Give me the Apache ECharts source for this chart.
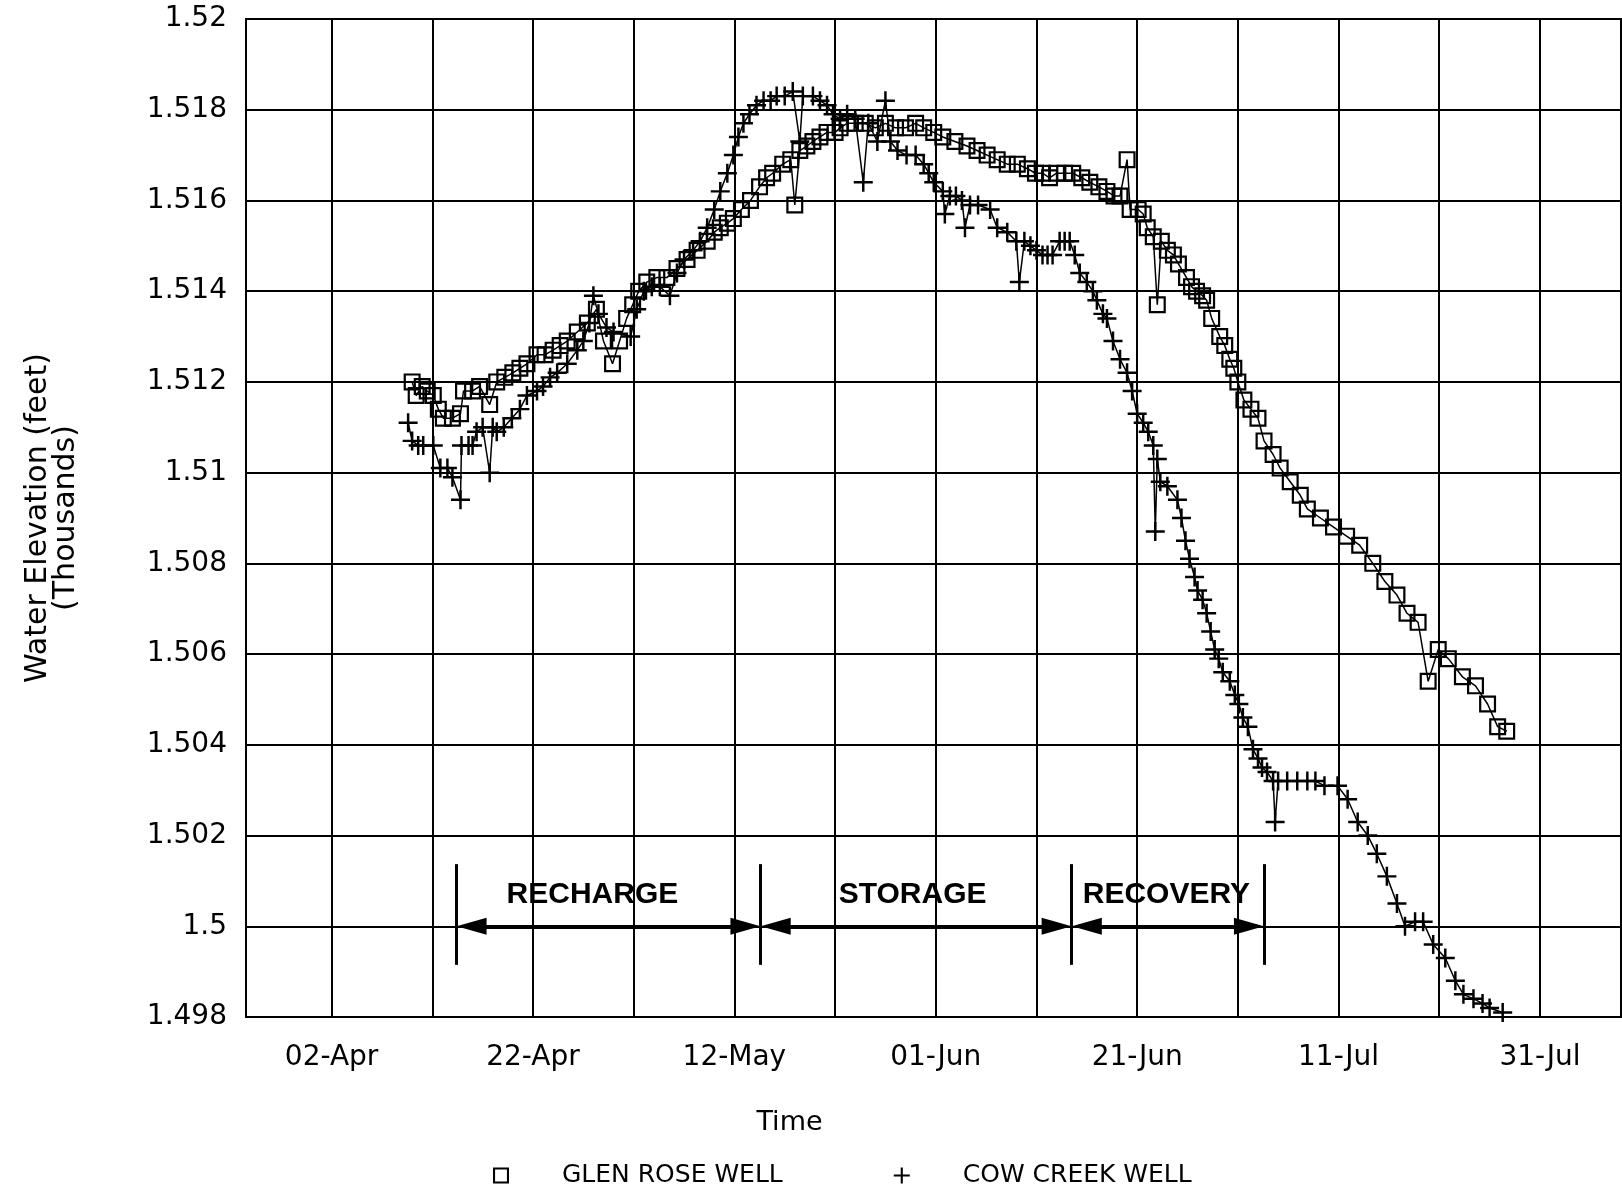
<!DOCTYPE html>
<html>
<head>
<meta charset="utf-8">
<title>Water Elevation - Glen Rose / Cow Creek</title>
<script src="https://cdn.jsdelivr.net/npm/echarts@6.0.0/dist/echarts.min.js"></script>
<style>
  html, body { margin: 0; padding: 0; background: #fff; }
  #chart { width: 1622px; height: 1188px; }
</style>
</head>
<body>
<div id="chart"></div>
<script>
// x values are day of year (02-Apr = 92)
const gridDays = [92, 102, 112, 122, 132, 142, 152, 162, 172, 182, 192, 202, 212];
const tickDays = [92, 112, 132, 152, 172, 192, 212];
const tickLabels = ['02-Apr', '22-Apr', '12-May', '01-Jun', '21-Jun', '11-Jul', '31-Jul'];

// Glen Rose well (squares), thousands of feet
const glenRoseDays = [
  100.0, 100.4, 101.0, 101.5, 102.1, 102.6, 103.1, 104.0, 104.8, 105.1,
  106.0, 106.7, 107.7, 108.4, 109.2, 110.0, 110.7, 111.4, 112.4, 113.2,
  114.0, 114.7, 115.4, 116.4, 117.4, 118.3, 119.0, 119.9, 120.6, 121.3,
  121.9, 122.5, 123.3, 124.3, 125.3, 126.3, 127.3, 128.3, 129.3, 130.0,
  130.6, 131.3, 131.9, 132.7, 133.6, 134.5, 135.2, 135.8, 136.8, 137.6,
  138.0, 138.5, 139.2, 139.8, 140.5, 141.2, 142.0, 142.5, 143.2, 144.0,
  145.0, 146.0, 147.0, 148.0, 149.0, 150.0, 150.8, 151.8, 152.7, 153.9,
  155.1, 156.1, 157.1, 158.1, 159.1, 160.1, 161.1, 161.9, 162.6, 163.3,
  164.0, 164.8, 165.6, 166.5, 167.3, 168.2, 169.0, 169.7, 170.3, 171.0,
  171.3, 172.1, 172.6, 173.0, 173.6, 174.0, 174.4, 175.0, 175.6, 176.1,
  176.9, 177.4, 177.9, 178.5, 178.9, 179.4, 180.2, 180.7, 181.2, 181.6,
  182.0, 182.6, 183.3, 184.0, 184.6, 185.5, 186.2, 187.2, 188.2, 188.9,
  190.2, 191.5, 192.8, 194.1, 195.4, 196.6, 197.8, 198.8, 199.9, 200.9,
  201.9, 202.9, 204.3, 205.6, 206.8, 207.8, 208.7
];
const glenRoseLevels = [
  1.5120, 1.5117, 1.5119, 1.5118, 1.5117, 1.5114, 1.5112, 1.5112, 1.5113, 1.5118,
  1.5118, 1.5119, 1.5115, 1.5120, 1.5121, 1.5122, 1.5123, 1.5124, 1.5126, 1.5126,
  1.5127, 1.5128, 1.5129, 1.5131, 1.5133, 1.5136, 1.5129, 1.5124, 1.5129, 1.5134,
  1.5137, 1.5140, 1.5142, 1.5143, 1.5143, 1.5145, 1.5147, 1.5149, 1.5151, 1.5153,
  1.5154, 1.5155, 1.5156, 1.5158, 1.5160, 1.5163, 1.5165, 1.5166, 1.5168, 1.5169,
  1.5159, 1.5171, 1.5172, 1.5173, 1.5174, 1.5175, 1.5175, 1.5176, 1.5177, 1.5177,
  1.5177, 1.5176, 1.5177, 1.5176, 1.5176, 1.5177, 1.5176, 1.5175, 1.5174, 1.5173,
  1.5172, 1.5171, 1.5170, 1.5169, 1.5168, 1.5168, 1.5167, 1.5166, 1.5166, 1.5165,
  1.5166, 1.5166, 1.5166, 1.5165, 1.5164, 1.5163, 1.5162, 1.5161, 1.5161, 1.5169,
  1.5158, 1.5158, 1.5157, 1.5154, 1.5152, 1.5137, 1.5151, 1.5149, 1.5148, 1.5146,
  1.5143, 1.5141, 1.5140, 1.5139, 1.5138, 1.5134, 1.5130, 1.5128, 1.5125, 1.5123,
  1.5120, 1.5116, 1.5114, 1.5112, 1.5107, 1.5104, 1.5101, 1.5098, 1.5095, 1.5092,
  1.5090, 1.5088, 1.5086, 1.5084, 1.5080, 1.5076, 1.5073, 1.5069, 1.5067, 1.5054,
  1.5061, 1.5059, 1.5055, 1.5053, 1.5049, 1.5044, 1.5043
];

// Cow Creek well (pluses)
const cowCreekDays = [
  99.6, 100.0, 100.6, 101.1, 102.1, 102.8, 103.5, 104.0, 104.8, 104.9,
  105.6, 106.0, 106.4, 107.0, 107.7, 108.0, 108.4, 109.1, 109.9, 110.7,
  111.4, 112.4, 113.0, 113.7, 114.4, 115.4, 116.4, 117.0, 117.6, 118.0,
  118.5, 119.3, 120.0, 121.7, 122.3, 123.0, 123.8, 124.6, 125.6, 126.3,
  127.0, 127.9, 128.6, 129.3, 130.0, 130.6, 131.3, 131.9, 132.4, 132.9,
  133.5, 134.2, 134.9, 135.6, 136.2, 137.0, 137.8, 138.5, 138.8, 139.8,
  140.5, 141.2, 141.8, 142.5, 143.2, 144.0, 144.8, 145.3, 146.2, 147.0,
  147.5, 148.2, 149.1, 150.0, 150.8, 151.3, 151.8, 152.7, 152.9, 153.4,
  154.0, 154.6, 154.9, 155.4, 156.2, 157.4, 158.1, 159.1, 160.0, 160.3,
  160.8, 161.4, 162.0, 162.6, 163.1, 163.6, 164.3, 164.8, 165.3, 165.8,
  166.3, 167.0, 167.6, 168.0, 168.6, 169.0, 169.6, 170.3, 171.0, 171.5,
  172.0, 172.6, 173.1, 173.6, 173.8, 174.0, 174.3, 175.0, 176.0, 176.4,
  176.8, 177.2, 177.7, 178.0, 178.5, 178.9, 179.3, 179.7, 180.1, 180.5,
  181.2, 181.7, 182.1, 182.5, 183.0, 183.5, 184.0, 184.4, 184.9, 185.5,
  185.7, 186.0, 186.9, 187.9, 188.9, 189.7, 190.6, 191.9, 192.9, 193.9,
  194.9, 195.8, 196.8, 197.8, 198.6, 199.6, 200.4, 201.4, 202.6, 203.6,
  204.4, 205.4, 206.3, 207.0, 208.3
];
const cowCreekLevels = [
  1.5111, 1.5107, 1.5106, 1.5106, 1.5106, 1.5101, 1.5101, 1.5099, 1.5094, 1.5106,
  1.5106, 1.5106, 1.5109, 1.5110, 1.5100, 1.5110, 1.5109, 1.5110, 1.5112, 1.5114,
  1.5117, 1.5118, 1.5119, 1.5121, 1.5122, 1.5124, 1.5127, 1.5129, 1.5133, 1.5139,
  1.5135, 1.5132, 1.5131, 1.5130, 1.5136, 1.5140, 1.5141, 1.5141, 1.5139, 1.5144,
  1.5147, 1.5149, 1.5151, 1.5154, 1.5158, 1.5162, 1.5166, 1.5170, 1.5174, 1.5177,
  1.5179, 1.5181, 1.5182, 1.5182, 1.5183, 1.5183, 1.5184, 1.5173, 1.5183, 1.5183,
  1.5182, 1.5181, 1.5179, 1.5178, 1.5179, 1.5178, 1.5164, 1.5177, 1.5173, 1.5182,
  1.5173, 1.5171, 1.5170, 1.5170, 1.5168, 1.5166, 1.5164, 1.5162, 1.5157, 1.5161,
  1.5161, 1.5160, 1.5154, 1.5159, 1.5159, 1.5158, 1.5154, 1.5153, 1.5151, 1.5142,
  1.5151, 1.5150, 1.5149, 1.5148, 1.5148, 1.5148, 1.5151, 1.5151, 1.5151, 1.5148,
  1.5144, 1.5142, 1.5140, 1.5138, 1.5135, 1.5134, 1.5129, 1.5125, 1.5122, 1.5118,
  1.5113, 1.5111, 1.5109, 1.5106, 1.5087, 1.5103, 1.5098, 1.5097, 1.5094, 1.5090,
  1.5085, 1.5081, 1.5077, 1.5074, 1.5072, 1.5069, 1.5065, 1.5061, 1.5059, 1.5056,
  1.5054, 1.5051, 1.5049, 1.5046, 1.5044, 1.5039, 1.5037, 1.5035, 1.5034, 1.5032,
  1.5023, 1.5032, 1.5032, 1.5032, 1.5032, 1.5032, 1.5031, 1.5031, 1.5028, 1.5023,
  1.5020, 1.5016, 1.5011, 1.5005, 1.5000, 1.5001, 1.5001, 1.4996, 1.4993, 1.4988,
  1.4985, 1.4984, 1.4983, 1.4982, 1.4981
];

// test phases: boundaries (day of year) and labels
const phaseNames = ['RECHARGE', 'STORAGE', 'RECOVERY'];
const phaseBounds = [104.4, 134.6, 165.5, 184.6];
const phaseLabelDays = [117.9, 149.7, 174.9];

const FONT = 'DejaVu Sans';
const squareIcon = 'path://M0,0H20V20H0Z M2.6,2.6V17.4H17.4V2.6Z';
const plusIcon = 'path://M8.7,0H11.3V8.7H20V11.3H11.3V20H8.7V11.3H0V8.7H8.7Z';
const ARROW_INSET = 1.5; // half an arrow head, in days

function zip(xs, ys) {
  return xs.map((x, i) => [x, ys[i]]);
}

const chart = echarts.init(document.getElementById('chart'));

// double arrows along the 1.5 line, bars at each boundary
const phaseLines = [];
for (let i = 0; i < phaseNames.length; i++) {
  phaseLines.push([
    { coord: [phaseBounds[i] + ARROW_INSET, 1.5] },
    { coord: [phaseBounds[i + 1] - ARROW_INSET, 1.5] }
  ]);
}
phaseBounds.forEach(b => {
  phaseLines.push([
    { coord: [b, 1.49915], symbol: 'none', lineStyle: { width: 3 } },
    { coord: [b, 1.50137], symbol: 'none' }
  ]);
});

const option = {
  animation: false,
  backgroundColor: '#fff',
  grid: { left: 246, top: 19, right: 1, bottom: 171, show: true, borderColor: '#000', borderWidth: 2, outerBoundsMode: 'none' },
  legend: {
    data: [
      { name: 'GLEN ROSE WELL', icon: squareIcon },
      { name: 'COW CREEK WELL', icon: plusIcon }
    ],
    left: 488,
    top: 1158,
    itemWidth: 16,
    itemHeight: 16,
    itemGap: 111,
    selectedMode: false,
    textStyle: { fontFamily: FONT, fontSize: 25, color: '#000', padding: [0, 0, 0, 48] }
  },
  xAxis: {
    type: 'value',
    min: 83.5,
    max: 220.05,
    name: 'Time',
    nameLocation: 'middle',
    nameGap: 92,
    // the title sits left of the plot centre in the original
    nameTextStyle: { fontFamily: FONT, fontSize: 27, color: '#000', padding: [0, 288, 0, 0] },
    axisLine: { lineStyle: { color: '#000', width: 2 } },
    axisTick: { show: false, customValues: gridDays },
    axisLabel: {
      customValues: tickDays,
      formatter: v => tickLabels[tickDays.indexOf(v)],
      fontFamily: FONT, fontSize: 28, color: '#000', margin: 27
    },
    splitLine: { show: true, lineStyle: { color: '#000', width: 2 } }
  },
  yAxis: {
    type: 'value',
    min: 1.498,
    max: 1.52,
    interval: 0.002,
    name: 'Water Elevation (feet)\n(Thousands)',
    nameLocation: 'middle',
    nameGap: 166,
    nameTextStyle: { fontFamily: FONT, fontSize: 30, lineHeight: 28, color: '#000' },
    axisLine: { show: true, lineStyle: { color: '#000', width: 2 } },
    axisTick: { show: false },
    axisLabel: {
      formatter: v => String(Number(v.toFixed(3))),
      fontFamily: FONT, fontSize: 28, color: '#000', margin: 19
    },
    splitLine: { lineStyle: { color: '#000', width: 2 } }
  },
  series: [
    {
      name: 'GLEN ROSE WELL',
      type: 'line',
      data: zip(glenRoseDays, glenRoseLevels),
      symbol: squareIcon,
      symbolSize: 17,
      showAllSymbol: true,
      itemStyle: { color: '#000' },
      lineStyle: { color: '#000', width: 1.5 },
      z: 3
    },
    {
      name: 'COW CREEK WELL',
      type: 'line',
      data: zip(cowCreekDays, cowCreekLevels),
      symbol: plusIcon,
      symbolSize: 19,
      showAllSymbol: true,
      itemStyle: { color: '#000' },
      lineStyle: { color: '#000', width: 1.5 },
      z: 3
    },
    {
      name: 'phases',
      type: 'scatter',
      data: phaseNames.map((n, i) => ({ name: n, value: [phaseLabelDays[i], 1.5007] })),
      symbolSize: 1,
      // scatter defaults to 0.8 opacity, which greys the labels
      itemStyle: { color: 'rgba(0,0,0,0)', opacity: 1 },
      label: {
        show: true,
        position: 'inside',
        formatter: '{b}',
        fontFamily: 'Liberation Sans',
        fontWeight: 'bold',
        fontSize: 30,
        color: '#000',
        textBorderWidth: 0,
        textBorderColor: 'transparent'
      },
      silent: true,
      markLine: {
        silent: true,
        symbol: ['triangle', 'triangle'],
        symbolSize: [17, 30],
        label: { show: false },
        lineStyle: { color: '#000', width: 4, type: 'solid', opacity: 1 },
        itemStyle: { opacity: 1 },
        data: phaseLines
      }
    }
  ]
};

chart.setOption(option);
</script>
</body>
</html>
